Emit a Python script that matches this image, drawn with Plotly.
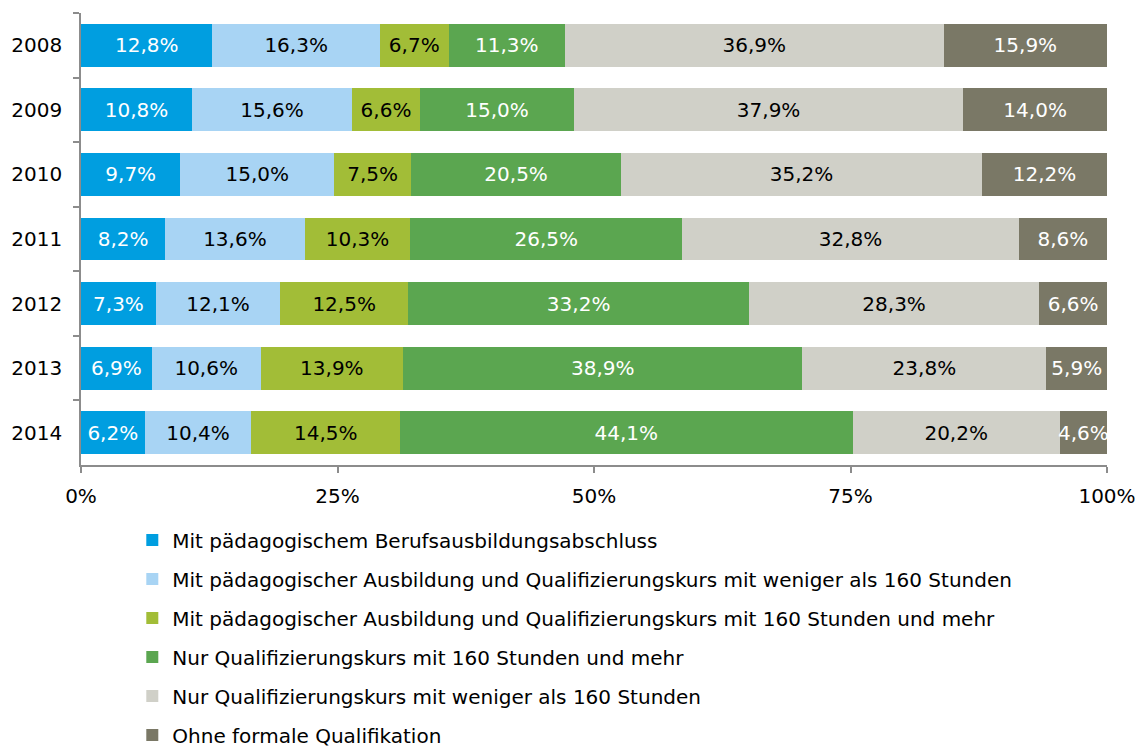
import plotly.graph_objects as go

years = ["2008", "2009", "2010", "2011", "2012", "2013", "2014"]
series_names = [
    "Mit pädagogischem Berufsausbildungsabschluss",
    "Mit pädagogischer Ausbildung und Qualifizierungskurs mit weniger als 160 Stunden",
    "Mit pädagogischer Ausbildung und Qualifizierungskurs mit 160 Stunden und mehr",
    "Nur Qualifizierungskurs mit 160 Stunden und mehr",
    "Nur Qualifizierungskurs mit weniger als 160 Stunden",
    "Ohne formale Qualifikation",
]
berufsausbildung = [12.8, 10.8, 9.7, 8.2, 7.3, 6.9, 6.2]
ausb_kurs_unter160 = [16.3, 15.6, 15.0, 13.6, 12.1, 10.6, 10.4]
ausb_kurs_ab160 = [6.7, 6.6, 7.5, 10.3, 12.5, 13.9, 14.5]
nur_kurs_ab160 = [11.3, 15.0, 20.5, 26.5, 33.2, 38.9, 44.1]
nur_kurs_unter160 = [36.9, 37.9, 35.2, 32.8, 28.3, 23.8, 20.2]
ohne_qualifikation = [15.9, 14.0, 12.2, 8.6, 6.6, 5.9, 4.6]
x_tick_vals = [0, 25, 50, 75, 100]
x_tick_text = ["0%", "25%", "50%", "75%", "100%"]

all_series = [berufsausbildung, ausb_kurs_unter160, ausb_kurs_ab160,
              nur_kurs_ab160, nur_kurs_unter160, ohne_qualifikation]
colors = ["#009EE0", "#A8D4F4", "#A2BD37", "#5BA650", "#D0D0C8", "#7A7866"]
text_colors = ["white", "black", "black", "white", "black", "white"]

FONT = "DejaVu Sans"

fig = go.Figure()
for i, (name, vals) in enumerate(zip(series_names, all_series)):
    fig.add_trace(go.Bar(
        y=years, x=vals, name=name, orientation="h",
        marker=dict(color=colors[i], line=dict(width=0)),
        text=[f"{v:.1f}".replace(".", ",") + "%" for v in vals],
        textposition="inside", insidetextanchor="middle", textangle=0,
        textfont=dict(color=text_colors[i], size=20, family=FONT),
        legendgroup=f"g{i}",
        hoverinfo="skip",
    ))

fig.update_layout(
    barmode="stack", barnorm="percent", bargap=0.335,
    width=1135, height=741,
    margin=dict(l=73, r=36, t=5, b=284, autoexpand=False),
    plot_bgcolor="white", paper_bgcolor="white",
    font=dict(family=FONT, size=20, color="black"),
    uniformtext=dict(minsize=20, mode="show"),
    showlegend=True,
    legend=dict(x=0.05, xanchor="left", y=-0.123, yanchor="top",
                font=dict(size=20, family=FONT), tracegroupgap=10,
                itemwidth=30, bgcolor="rgba(0,0,0,0)"),
    xaxis=dict(range=[0, 100], tickvals=x_tick_vals, ticktext=x_tick_text,
               showgrid=False, zeroline=False, showline=True,
               linecolor="#8c8c8c", linewidth=1.5,
               ticks="outside", ticklen=6, tickcolor="#8c8c8c", tickwidth=1.5,
               ticklabelstandoff=6, tickfont=dict(size=20)),
    yaxis=dict(categoryorder="array", categoryarray=years, autorange="reversed",
               showgrid=False, zeroline=False, showline=True,
               linecolor="#8c8c8c", linewidth=1.5,
               ticks="outside", ticklen=6, tickcolor="#8c8c8c", tickwidth=1.5,
               tickson="boundaries", ticklabelstandoff=13,
               tickfont=dict(size=20)),
)

fig.write_html("out.html")
